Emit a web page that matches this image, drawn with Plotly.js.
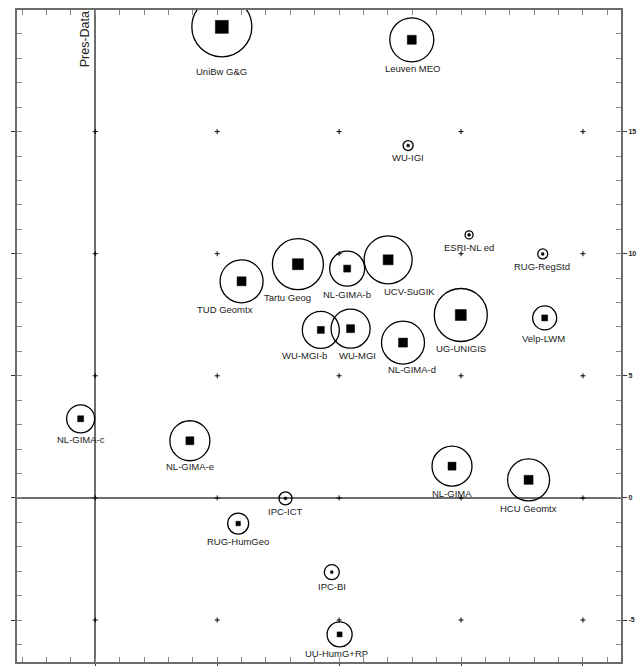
<!DOCTYPE html>
<html>
<head>
<meta charset="utf-8">
<script src="https://cdn.plot.ly/plotly-3.0.1.min.js"></script>
<style>html,body{margin:0;padding:0;background:#fff;}#chart{width:644px;height:666px;}</style>
</head>
<body>
<div id="chart"></div>
<script>
// ---- data ----
var names = ["UniBw G&G","Leuven MEO","WU-IGI","ESRI-NL ed","RUG-RegStd","TUD Geomtx","Tartu Geog","NL-GIMA-b","UCV-SuGIK","WU-MGI-b","WU-MGI","NL-GIMA-d","UG-UNIGIS","Velp-LWM","NL-GIMA-c","NL-GIMA-e","NL-GIMA","HCU Geomtx","IPC-ICT","RUG-HumGeo","IPC-BI","UU-HumG+RP"];
var xVals = [5.19,12.98,12.83,15.33,18.35,6.00,8.31,10.33,12.01,9.25,10.47,12.62,14.99,18.43,-0.60,3.88,14.63,17.77,7.80,5.86,9.70,10.02];
var yVals = [19.29,18.76,14.43,10.77,9.99,8.87,9.57,9.39,9.75,6.88,6.93,6.36,7.49,7.37,3.24,2.34,1.30,0.74,-0.02,-1.05,-3.04,-5.59];
var outerVals = [60,44,10,8,10,43,51,35,48,37,39,43,53,24,28,40,40,42,13,21,15,25];
var innerVals = [13,9,2.5,2.5,2.5,9,11,7,10,7,8,9,11,6,6,8,8,9,2.5,4.5,2.5,5];
var majorTicks = [-5,0,5,10,15,20];
var yTickVals = [-5,0,5,10,15];
var yTickText = ["-5","0","5","10","15"];
var gridX = [0,5,10,15,20];
var gridY = [-5,0,5,10,15];

// ---- label placement (pixel offsets from point) ----
var labelDx = [0,1,0,0,-1,-17,-10,0,21,-16,7,9,0,-1,0,0,0,0,0,0,0,-3];
var labelDy = [45,29,12,12.5,13,28,33,26,32,26,27,27,33,21,21,26,27,29,12.7,18,14,19];

var XR = [-3.21, 21.56], YR = [-6.72, 19.98];
var GRAY = '#6c6c6c';

var cx = [], cy = [];
gridX.forEach(function(gx){ gridY.forEach(function(gy){ cx.push(gx); cy.push(gy); }); });

var traces = [
  {type:'scatter', mode:'markers', x:cx, y:cy, xaxis:'x2', yaxis:'y2', hoverinfo:'skip',
   marker:{symbol:'cross-thin-open', size:3.6, color:'#000', opacity:1, line:{width:1, color:'#000'}}},
  {type:'scatter', mode:'markers', x:xVals, y:yVals, text:names, hoverinfo:'text',
   marker:{symbol:'circle-open', size:outerVals, color:'#000', opacity:1, line:{width:1.3, color:'#000'}}},
  {type:'scatter', mode:'markers', x:xVals, y:yVals, hoverinfo:'skip',
   marker:{symbol:'square', size:innerVals, color:'#000', opacity:1, line:{width:0.5, color:'#000'}}}
];

var anns = names.map(function(n,i){
  return {x:xVals[i], y:yVals[i], xref:'x', yref:'y', text:n, showarrow:false,
    xanchor:'center', yanchor:'middle', xshift:labelDx[i], yshift:-labelDy[i],
    font:{family:'Liberation Sans Narrow, Arial Narrow, Liberation Sans, Arial, sans-serif', size:9.5, color:'#1a1a1a'}};
});
anns.push({x:0, xref:'x', y:1, yref:'paper', text:'Pres-Data', showarrow:false, textangle:-90,
  xanchor:'right', yanchor:'top', xshift:-1, yshift:1,
  font:{family:'Liberation Sans, Arial, sans-serif', size:12.5, color:'#222'}});

var layout = {
  width:644, height:666,
  margin:{l:17, r:22.7, t:10.3, b:4.3, pad:0},
  paper_bgcolor:'#fff', plot_bgcolor:'#fff',
  showlegend:false,
  xaxis:{range:XR, showgrid:false, zeroline:true, zerolinecolor:GRAY, zerolinewidth:2,
    showline:true, linecolor:GRAY, linewidth:2, mirror:true,
    ticks:'outside', tickvals:majorTicks, ticklen:5, tickcolor:'#333', tickwidth:1,
    showticklabels:false, fixedrange:true},
  yaxis:{range:YR, side:'right', showgrid:false, zeroline:true, zerolinecolor:GRAY, zerolinewidth:2,
    showline:true, linecolor:GRAY, linewidth:2, mirror:'ticks',
    ticks:'outside', tickvals:yTickVals, ticktext:yTickText, ticklen:4, tickcolor:'#333', tickwidth:1,
    tickfont:{family:'Liberation Sans, Arial, sans-serif', size:7, color:'#222', weight:'bold'},
    fixedrange:true},
  xaxis2:{range:XR, overlaying:'x', anchor:'y', side:'bottom', showgrid:false, zeroline:false,
    showline:false, ticks:'inside', tick0:0, dtick:1, ticklen:5, tickcolor:'#8a8a8a', tickwidth:1,
    mirror:'ticks', showticklabels:false, fixedrange:true},
  yaxis2:{range:YR, overlaying:'y', anchor:'x', side:'right', showgrid:false, zeroline:false,
    showline:false, ticks:'inside', tick0:0, dtick:1, ticklen:5, tickcolor:'#8a8a8a', tickwidth:1,
    mirror:'ticks', showticklabels:false, fixedrange:true},
  annotations:anns
};

Plotly.newPlot('chart', traces, layout, {displayModeBar:false, staticPlot:true});
</script>
</body>
</html>
